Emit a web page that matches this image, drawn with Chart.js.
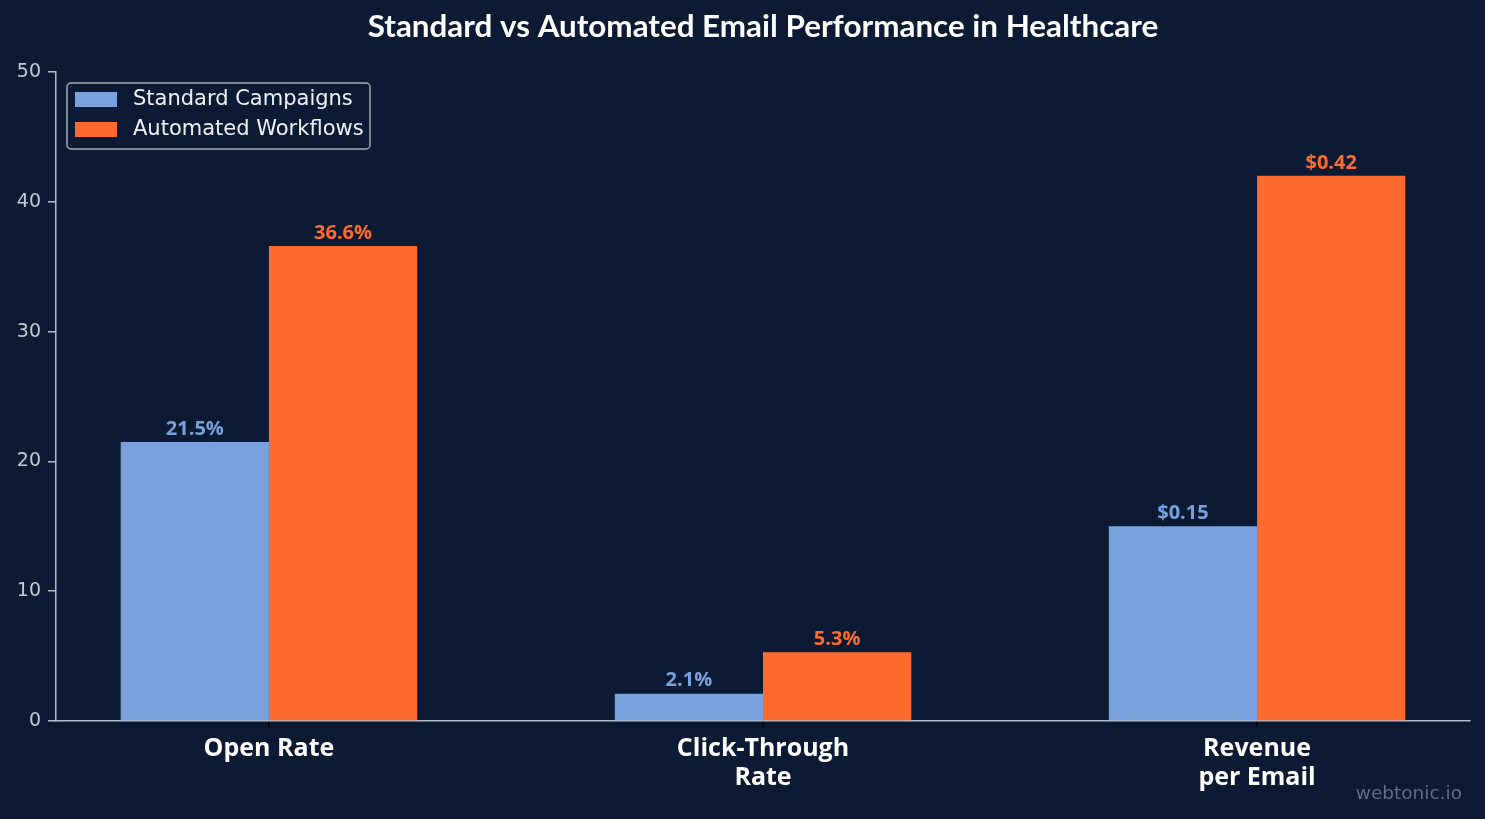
<!DOCTYPE html>
<html>
<head>
<meta charset="utf-8">
<script src="https://cdn.jsdelivr.net/npm/chart.js@4.4.0/dist/chart.umd.min.js"></script>
<style>
  html, body { margin: 0; padding: 0; background: #0c1b33; }
  #wrap { width: 1485px; height: 819px; }
</style>
</head>
<body>
<div id="wrap"><canvas id="myChart" width="1485" height="819"></canvas></div>
<script>
// DATOS
const categorias = [['Open Rate'], ['Click-Through', 'Rate'], ['Revenue', 'per Email']];
const seriesNombres = ['Standard Campaigns', 'Automated Workflows'];
const valoresStandard = [21.5, 2.1, 15];
const valoresAutomated = [36.6, 5.3, 42];
const etiquetasStandard = ['21.5%', '2.1%', '$0.15'];
const etiquetasAutomated = ['36.6%', '5.3%', '$0.42'];
const ticksY = [0, 10, 20, 30, 40, 50];

const titulo = 'Standard vs Automated Email Performance in Healthcare';
const marcaAgua = 'webtonic.io';

const colorFondo = '#0c1b33';
const colorAzul = '#79a1dc';
const colorNaranja = '#ff6b2f';
const colorEje = '#b4bccb';

// plugin: fondo, titulo, etiquetas de valores, leyenda y marca de agua
const extras = {
    id: 'extras',
    beforeDraw(chart) {
        const c = chart.ctx;
        c.save();
        c.fillStyle = colorFondo;
        c.fillRect(0, 0, chart.width, chart.height);
        c.restore();
    },
    afterDatasetsDraw(chart) {
        const c = chart.ctx;
        const area = chart.chartArea;
        c.save();
        // etiquetas sobre las barras
        const etiquetas = [etiquetasStandard, etiquetasAutomated];
        const colores = [colorAzul, colorNaranja];
        c.font = 'bold 20px "Open Sans"';
        c.textAlign = 'center';
        c.textBaseline = 'bottom';
        chart.data.datasets.forEach((ds, i) => {
            chart.getDatasetMeta(i).data.forEach((bar, j) => {
                c.fillStyle = colores[i];
                c.fillText(etiquetas[i][j], bar.x, bar.y - 3);
            });
        });

        // titulo
        c.fillStyle = '#ffffff';
        c.font = 'bold 31.4px Lato';
        c.textBaseline = 'middle';
        c.fillText(titulo, (area.left + area.right) / 2, 27);

        // leyenda
        const lx = area.left + 11, ly = area.top + 11, lw = 303, lh = 66;
        c.beginPath();
        c.roundRect(lx, ly, lw, lh, 4);
        c.fillStyle = colorFondo;
        c.fill();
        c.strokeStyle = '#a3adbc';
        c.lineWidth = 1.5;
        c.stroke();
        c.font = '21px "DejaVu Sans"';
        c.textAlign = 'left';
        seriesNombres.forEach((n, i) => {
            const yy = ly + 16 + i * 30;
            c.fillStyle = colores[i];
            c.fillRect(lx + 8, yy - 7, 42, 15);
            c.fillStyle = '#eef1f6';
            c.fillText(n, lx + 66, yy + 1);
        });

        // marca de agua
        c.fillStyle = '#5f6e86';
        c.font = '18.5px "DejaVu Sans"';
        c.textAlign = 'right';
        c.fillText(marcaAgua, 1462, 794);
        c.restore();
    }
};

const ctx = document.getElementById('myChart');

new Chart(ctx, {
    type: 'bar',
    data: {
        datasets: [{
            label: seriesNombres[0],
            data: valoresStandard.map((v, i) => ({ x: i, y: v })),
            backgroundColor: colorAzul,
            borderWidth: 0
        }, {
            label: seriesNombres[1],
            data: valoresAutomated.map((v, i) => ({ x: i, y: v })),
            backgroundColor: colorNaranja,
            borderWidth: 0
        }]
    },
    options: {
        responsive: false,
        animation: false,
        categoryPercentage: 0.6,
        barPercentage: 1.0,
        layout: { padding: { top: 72, right: 15, left: 0, bottom: 0 } },
        plugins: {
            legend: { display: false },
            title: { display: false },
            tooltip: { enabled: false }
        },
        scales: {
            x: {
                type: 'linear',
                min: -0.431,
                max: 2.431,
                offset: false,
                afterBuildTicks: (scale) => { scale.ticks = categorias.map((c, i) => ({ value: i })); },
                afterFit: (scale) => { scale.height = 98; },
                border: { color: colorEje, width: 1.5 },
                grid: { drawOnChartArea: false, offset: false, color: '#000000', tickColor: '#000000', tickLength: 6, lineWidth: 1.5 },
                ticks: {
                    color: '#ffffff',
                    font: { family: '"Open Sans"', size: 25, weight: 'bold', lineHeight: 1.16 },
                    padding: 7,
                    maxRotation: 0,
                    autoSkip: false,
                    callback: (v) => categorias[v]
                }
            },
            y: {
                min: 0,
                max: 50,
                afterBuildTicks: (scale) => { scale.ticks = ticksY.map(v => ({ value: v })); },
                afterFit: (scale) => { scale.width = 56; },
                border: { color: colorEje, width: 1.5 },
                grid: { drawOnChartArea: false, tickColor: colorEje, tickLength: 8, lineWidth: 1.5 },
                ticks: {
                    color: '#c3cad6',
                    font: { family: '"DejaVu Sans"', size: 19 },
                    padding: 7
                }
            }
        }
    },
    plugins: [extras]
});
</script>
</body>
</html>
